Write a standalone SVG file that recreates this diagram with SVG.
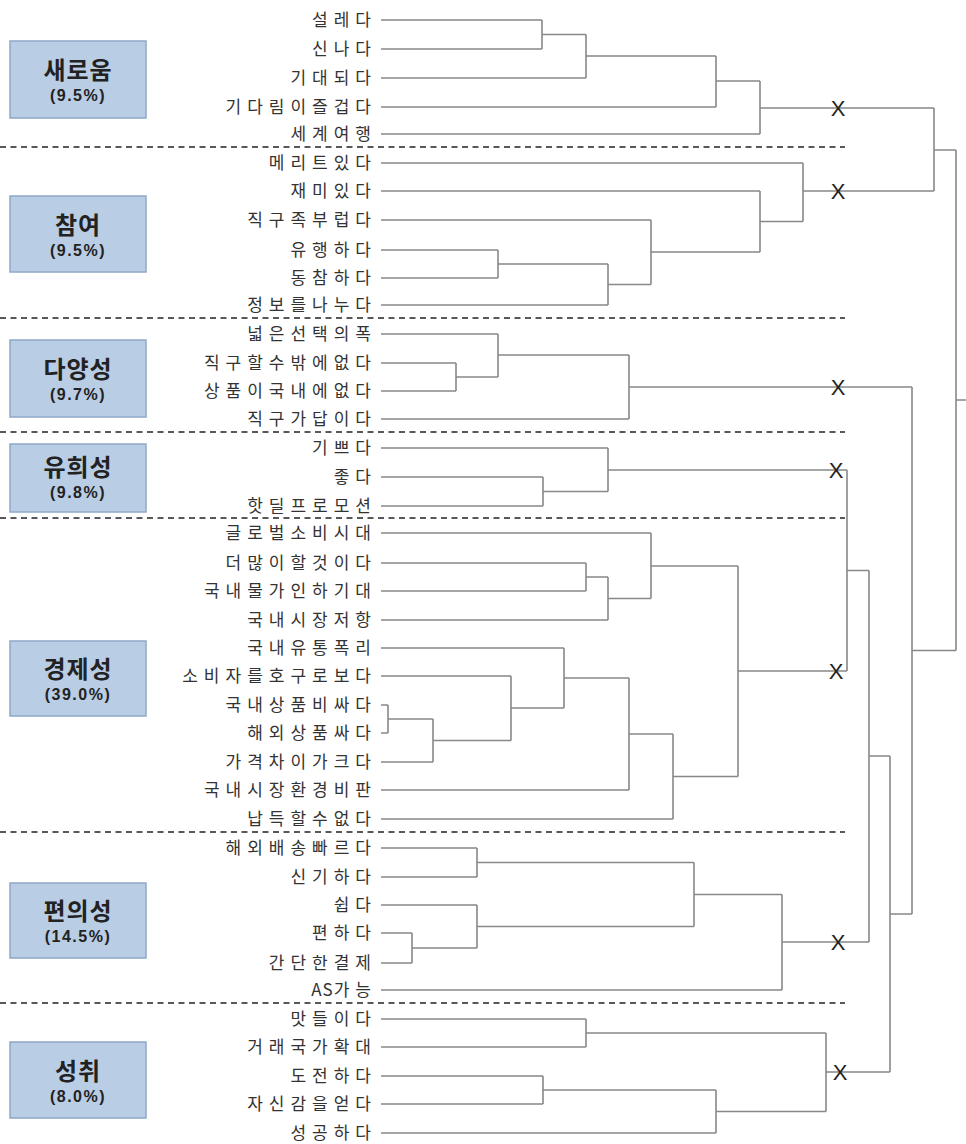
<svg xmlns="http://www.w3.org/2000/svg" width="966" height="1144" viewBox="0 0 966 1144">
<style>
.bg{fill:#ffffff}
.box{fill:#B9CDE5;stroke:#8FA8C6;stroke-width:1.5}
.title{font-family:"Noto Sans CJK KR","Noto Sans",sans-serif;font-weight:bold;font-size:24px;fill:#222;text-anchor:middle;letter-spacing:1px}
.pct{font-family:"Liberation Sans",Arial,sans-serif;font-weight:bold;font-size:16px;fill:#222;text-anchor:middle;letter-spacing:1.5px}
.leaf{font-family:"Noto Sans CJK KR","Noto Sans",sans-serif;font-size:17px;fill:#333;text-anchor:end;letter-spacing:6px}
.ln{fill:none;stroke:#888;stroke-width:1.6}
.dash{fill:none;stroke:#222;stroke-width:1.5;stroke-dasharray:6 4.5}
.x{font-family:"Liberation Sans",Arial,sans-serif;font-size:22px;fill:#222;text-anchor:middle;dominant-baseline:central}
</style>
<rect class="bg" x="0" y="0" width="966" height="1144"/>

<g id="separators">
<path class="dash" d="M0 147H845M0 318H845M0 432H845M0 518H845M0 832H845M0 1003H845"/>
</g>

<g id="box-saeroum"><rect class="box" x="10" y="41" width="136" height="77"/><text class="title" x="78" y="79">새로움</text><text class="pct" x="78" y="101">(9.5%)</text></g>
<g id="box-chamyeo"><rect class="box" x="10" y="196" width="136" height="76"/><text class="title" x="78" y="234">참여</text><text class="pct" x="78" y="256">(9.5%)</text></g>
<g id="box-dayangseong"><rect class="box" x="10" y="340" width="136" height="77"/><text class="title" x="78" y="378">다양성</text><text class="pct" x="78" y="400">(9.7%)</text></g>
<g id="box-yuhuiseong"><rect class="box" x="10" y="444" width="136" height="68"/><text class="title" x="78" y="476">유희성</text><text class="pct" x="78" y="498">(9.8%)</text></g>
<g id="box-gyeongjeseong"><rect class="box" x="10" y="641" width="136" height="75"/><text class="title" x="78" y="678">경제성</text><text class="pct" x="78" y="700">(39.0%)</text></g>
<g id="box-pyeonuiseong"><rect class="box" x="10" y="883" width="136" height="75"/><text class="title" x="78" y="920">편의성</text><text class="pct" x="78" y="942">(14.5%)</text></g>
<g id="box-seongchwi"><rect class="box" x="10" y="1042" width="136" height="76"/><text class="title" x="78" y="1080">성취</text><text class="pct" x="78" y="1102">(8.0%)</text></g>

<g id="leaves">
<g id="n01"><text class="leaf" x="377" y="26">설레다</text></g>
<g id="n02"><text class="leaf" x="377" y="55">신나다</text></g>
<g id="n03"><text class="leaf" x="377" y="84">기대되다</text></g>
<g id="n04"><text class="leaf" x="377" y="113">기다림이즐겁다</text></g>
<g id="n05"><text class="leaf" x="377" y="140">세계여행</text></g>
<g id="n06"><text class="leaf" x="377" y="169">메리트있다</text></g>
<g id="n07"><text class="leaf" x="377" y="197">재미있다</text></g>
<g id="n08"><text class="leaf" x="377" y="226">직구족부럽다</text></g>
<g id="n09"><text class="leaf" x="377" y="256">유행하다</text></g>
<g id="n10"><text class="leaf" x="377" y="284">동참하다</text></g>
<g id="n11"><text class="leaf" x="377" y="311">정보를나누다</text></g>
<g id="n12"><text class="leaf" x="377" y="340">넓은선택의폭</text></g>
<g id="n13"><text class="leaf" x="377" y="369">직구할수밖에없다</text></g>
<g id="n14"><text class="leaf" x="377" y="397">상품이국내에없다</text></g>
<g id="n15"><text class="leaf" x="377" y="425">직구가답이다</text></g>
<g id="n16"><text class="leaf" x="377" y="454">기쁘다</text></g>
<g id="n17"><text class="leaf" x="377" y="483">좋다</text></g>
<g id="n18"><text class="leaf" x="377" y="512">핫딜프로모션</text></g>
<g id="n19"><text class="leaf" x="377" y="539">글로벌소비시대</text></g>
<g id="n20"><text class="leaf" x="377" y="569">더많이할것이다</text></g>
<g id="n21"><text class="leaf" x="377" y="597">국내물가인하기대</text></g>
<g id="n22"><text class="leaf" x="377" y="626">국내시장저항</text></g>
<g id="n23"><text class="leaf" x="377" y="654">국내유통폭리</text></g>
<g id="n24"><text class="leaf" x="377" y="682">소비자를호구로보다</text></g>
<g id="n25"><text class="leaf" x="377" y="711">국내상품비싸다</text></g>
<g id="n26"><text class="leaf" x="377" y="739">해외상품싸다</text></g>
<g id="n27"><text class="leaf" x="377" y="768">가격차이가크다</text></g>
<g id="n28"><text class="leaf" x="377" y="796">국내시장환경비판</text></g>
<g id="n29"><text class="leaf" x="377" y="825">납득할수없다</text></g>
<g id="n30"><text class="leaf" x="377" y="854">해외배송빠르다</text></g>
<g id="n31"><text class="leaf" x="377" y="883">신기하다</text></g>
<g id="n32"><text class="leaf" x="377" y="911">쉽다</text></g>
<g id="n33"><text class="leaf" x="377" y="939">편하다</text></g>
<g id="n34"><text class="leaf" x="377" y="969">간단한결제</text></g>
<g id="n35"><text class="leaf" x="377" y="996"><tspan letter-spacing="1">AS</tspan>가능</text></g>
<g id="n36"><text class="leaf" x="377" y="1025">맛들이다</text></g>
<g id="n37"><text class="leaf" x="377" y="1053">거래국가확대</text></g>
<g id="n38"><text class="leaf" x="377" y="1082">도전하다</text></g>
<g id="n39"><text class="leaf" x="377" y="1110">자신감을얻다</text></g>
<g id="n40"><text class="leaf" x="377" y="1139">성공하다</text></g>
</g>

<g id="connectors">
<path class="ln" d="M381 20H542M381 49H542M381 78H586M381 107H716M381 134H760
M381 163H803M381 191H760M381 220H651M381 250H498M381 278H498M381 305H608
M381 334H498M381 363H456M381 391H456M381 419H629
M381 448H608M381 477H543M381 506H543
M381 533H651M381 563H586M381 591H586M381 620H608M381 648H564M381 676H511M381 705H388M381 733H388M381 762H433M381 790H629M381 819H673
M381 848H477M381 877H477M381 905H477M381 933H412M381 963H412M381 990H782
M381 1019H586M381 1047H586M381 1076H543M381 1104H543M381 1133H716"/>
<path class="ln" d="
M542 20V49M542 34.5H586
M586 34.5V78M586 56H716
M716 56V107M716 81H760
M760 81V134M760 108H934
M498 250V278M498 264H608
M608 264V305M608 284.5H651
M651 220V284.5M651 252H760
M760 191V252M760 221.5H803
M803 163V221.5M803 191H934
M934 108V191M934 150H956
M456 363V391M456 377H498
M498 334V377M498 355H629
M629 355V419M629 387H912
M543 477V506M543 491.5H608
M608 448V491.5M608 470H847
M586 563V591M586 577H608
M608 577V620M608 598.5H651
M651 533V598.5M651 566H738
M388 705V733M388 719H433
M433 719V762M433 740.5H511
M511 676V740.5M511 708H564
M564 648V708M564 678H629
M629 678V790M629 734H673
M673 734V819M673 776.5H738
M738 566V776.5M738 671H847
M847 470V671M847 570.5H869
M477 848V877M477 862.5H694
M412 933V963M412 948H477
M477 905V948M477 926.5H694
M694 862.5V926.5M694 894.5H782
M782 894.5V990M782 942H869
M869 570.5V942M869 756H890
M586 1019V1047M586 1033H826
M543 1076V1104M543 1090H716
M716 1090V1133M716 1111.5H826
M826 1033V1111.5M826 1072H890
M890 756V1072M890 914H912
M912 387V914M912 650.5H956
M956 150V650.5M956 400H966"/>
<g id="cut-marks">
<text class="x" x="838" y="108">X</text>
<text class="x" x="838" y="191">X</text>
<text class="x" x="838" y="387">X</text>
<text class="x" x="836" y="470">X</text>
<text class="x" x="836" y="671">X</text>
<text class="x" x="838" y="942">X</text>
<text class="x" x="840" y="1072">X</text>
</g>
</g>
</svg>
